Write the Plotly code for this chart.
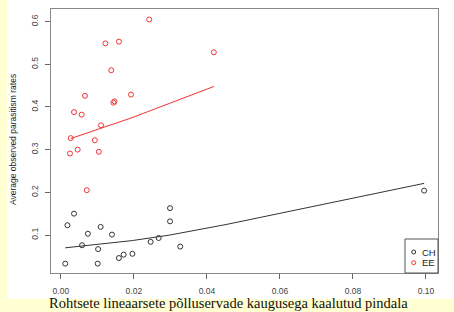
import plotly.graph_objects as go

# CH series (black)
ch_x = [0.0012, 0.0018, 0.0036, 0.0058, 0.0074, 0.0102, 0.0101, 0.0109, 0.0140,
        0.0159, 0.0172, 0.0196, 0.0246, 0.0268, 0.0299, 0.0299, 0.0327, 0.0995]
ch_y = [0.033, 0.123, 0.150, 0.076, 0.103, 0.067, 0.033, 0.119, 0.101,
        0.046, 0.054, 0.056, 0.084, 0.093, 0.163, 0.132, 0.073, 0.204]
ch_fit_x = [0.0012, 0.0102, 0.0196, 0.0299, 0.0455, 0.0995]
ch_fit_y = [0.070, 0.079, 0.087, 0.100, 0.125, 0.221]

# EE series (red)
ee_x = [0.0025, 0.0027, 0.0036, 0.0046, 0.0057, 0.0066, 0.0071, 0.0093, 0.0104,
        0.0110, 0.0122, 0.0138, 0.0144, 0.0147, 0.0159, 0.0192, 0.0242, 0.0419]
ee_y = [0.291, 0.327, 0.388, 0.300, 0.382, 0.426, 0.205, 0.322, 0.295,
        0.357, 0.549, 0.486, 0.410, 0.413, 0.553, 0.429, 0.605, 0.528]
ee_fit_x = [0.0027, 0.0192, 0.0419]
ee_fit_y = [0.326, 0.374, 0.448]

x_ticks = [0.0, 0.02, 0.04, 0.06, 0.08, 0.10]
x_tick_labels = ["0.00", "0.02", "0.04", "0.06", "0.08", "0.10"]
y_ticks = [0.1, 0.2, 0.3, 0.4, 0.5, 0.6]
y_tick_labels = ["0.1", "0.2", "0.3", "0.4", "0.5", "0.6"]

BLACK = "#333333"
RED = "#f23333"

W, H = 454, 312
L, R, T, B = 51, 16, 9, 39
PW, PH = W - L - R, H - T - B


def px(xp):
    return (xp - L) / PW


def py(yp):
    return (H - B - yp) / PH


fig = go.Figure()
fig.add_trace(go.Scatter(x=ch_x, y=ch_y, mode="markers", name="CH",
                         marker=dict(symbol="circle-open", size=5, color=BLACK,
                                     line=dict(width=1, color=BLACK))))
fig.add_trace(go.Scatter(x=ch_fit_x, y=ch_fit_y, mode="lines",
                         line=dict(color=BLACK, width=1), showlegend=False))
fig.add_trace(go.Scatter(x=ee_x, y=ee_y, mode="markers", name="EE",
                         marker=dict(symbol="circle-open", size=5, color=RED,
                                     line=dict(width=1, color=RED))))
fig.add_trace(go.Scatter(x=ee_fit_x, y=ee_fit_y, mode="lines",
                         line=dict(color=RED, width=1), showlegend=False))

tickfont = dict(family="Liberation Sans, Arial, sans-serif", size=8.5, color="#444444")

fig.update_layout(
    width=W, height=H,
    margin=dict(l=L, r=R, t=T, b=B),
    paper_bgcolor="#ffffd2",
    plot_bgcolor="white",
    showlegend=False,
    xaxis=dict(range=[-0.0027, 0.1033], tickvals=x_ticks, ticktext=x_tick_labels,
               showgrid=False, zeroline=False, showline=True, mirror=True,
               linecolor="#888888", linewidth=1.2, ticks="outside", ticklen=5,
               tickcolor="#666666", tickfont=tickfont, ticklabelstandoff=5),
    yaxis=dict(range=[0.011, 0.6295], tickvals=y_ticks, ticktext=y_tick_labels,
               showgrid=False, zeroline=False, showline=True, mirror=True,
               linecolor="#888888", linewidth=1.2, ticks="outside", ticklen=5,
               tickcolor="#666666", tickfont=tickfont, tickangle=-90,
               ticklabelstandoff=4),
)

shapes = [
    # white picture area
    dict(type="rect", xref="paper", yref="paper", layer="below",
         x0=px(7), x1=px(454), y0=py(299), y1=py(0),
         fillcolor="white", line=dict(width=0)),
    # legend box
    dict(type="rect", xref="paper", yref="paper",
         x0=px(405), x1=px(438), y0=py(273), y1=py(239),
         fillcolor="white", line=dict(color="#555555", width=1)),
    dict(type="circle", xref="paper", yref="paper",
         x0=px(411.7), x1=px(415.7), y0=py(254), y1=py(250),
         line=dict(color=BLACK, width=1)),
    dict(type="circle", xref="paper", yref="paper",
         x0=px(411.7), x1=px(415.7), y0=py(264.7), y1=py(260.7),
         line=dict(color=RED, width=1)),
]
fig.update_layout(shapes=shapes)

legfont = dict(family="Liberation Sans, Arial, sans-serif", size=9.5, color="#222222")
annotations = [
    dict(text="CH", xref="paper", yref="paper", x=px(420), y=py(252),
         xanchor="left", yanchor="middle", showarrow=False, font=legfont),
    dict(text="EE", xref="paper", yref="paper", x=px(420), y=py(262.7),
         xanchor="left", yanchor="middle", showarrow=False, font=legfont),
    dict(text="Average observed parasitism rates", xref="paper", yref="paper",
         x=px(13), y=py(140), xanchor="center", yanchor="middle", textangle=-90,
         showarrow=False,
         font=dict(family="Liberation Sans, Arial, sans-serif", size=8.5, color="#222222")),
    dict(text="Rohtsete lineaarsete põlluservade kaugusega kaalutud pindala",
         xref="paper", yref="paper", x=px(228), y=py(303), xanchor="center",
         yanchor="middle", showarrow=False,
         font=dict(family="Liberation Serif, Times New Roman, serif", size=14.5, color="#111111")),
]
fig.update_layout(annotations=annotations)

fig.write_html("out.html", config={"displayModeBar": False},
               post_script="document.body.style.margin='0';document.body.style.overflow='hidden';")
